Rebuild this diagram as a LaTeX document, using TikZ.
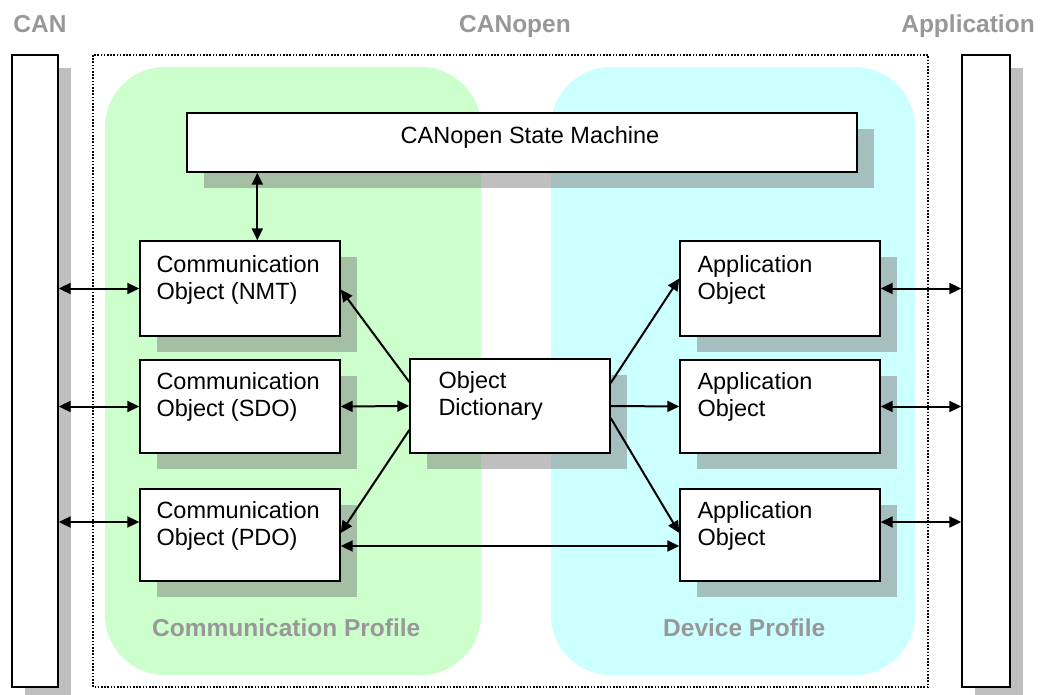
\documentclass[tikz,border=0pt]{standalone}
\usepackage{fontspec}
\setmainfont{Liberation Sans}
\usetikzlibrary{arrows.meta,shadows}

\definecolor{commgreen}{HTML}{CCFFCC}
\definecolor{devcyan}{HTML}{CCFFFF}
\definecolor{headgray}{HTML}{989898}

\newcommand\twolines[2]{\begin{tabular}[t]{@{}l@{}}#1\\#2\end{tabular}}

\tikzset{
  heading/.style={font=\fontsize{24.5}{29}\selectfont\bfseries, text=headgray, inner sep=0pt},
  body/.style={font=\fontsize{23.5}{27}\selectfont, inner sep=0pt, anchor=base west},
  objbox/.style={draw=black, line width=1.4pt, fill=white, inner sep=0pt,
    minimum width=200pt, minimum height=#1,
    drop shadow={shadow xshift=17pt, shadow yshift=-16pt, fill=black!50, opacity=0.5}},
  objbox/.default=94pt,
  busbar/.style={draw=black, line width=1.4pt, fill=white, inner sep=0pt,
    minimum width=#1, minimum height=632pt,
    drop shadow={shadow xshift=12.5pt, shadow yshift=-13pt, fill=black!50, opacity=0.5}},
  link/.style={line width=2pt, {Triangle[length=12pt,width=11pt]}-{Triangle[length=12pt,width=11pt]}},
  oneway/.style={line width=2pt, -{Triangle[length=12pt,width=11pt]}},
}

\begin{document}
\begin{tikzpicture}[x=1pt, y=-1pt]
\useasboundingbox (0,0) rectangle (1044,695);

% layer headings
\node[heading, anchor=base] (hcan) at (40,33) {CAN};
\node[heading, anchor=base] (hcanopen) at (515,33) {CANopen};
\node[heading, anchor=base] (happ) at (968,33) {Application};

% bus and application bars
\node[busbar=46pt] (canbar) at (35,371) {};
\node[busbar=48pt] (appbar) at (986,371) {};

% profile areas
\fill[commgreen, rounded corners=60pt] (105,67) rectangle (481,675);
\fill[devcyan, rounded corners=60pt] (551,67) rectangle (915,675);

% CANopen boundary
\draw[line width=2pt, dash pattern=on 1.6pt off 1.6pt] (93,55) rectangle (928,687);

\node[heading, anchor=base west] (hcomm) at (152,636) {Communication Profile};
\node[heading, anchor=base west] (hdev) at (663,636) {Device Profile};

% state machine
\node[objbox=59pt, minimum width=670pt] (sm) at (522,142.5) {};
\node[body, anchor=base] (smt) at (530,144) {CANopen State Machine};

% communication objects
\node[objbox=95pt] (nmt) at (240,288.5) {};
\node[objbox=93pt] (sdo) at (240,406.5) {};
\node[objbox=92pt] (pdo) at (240,535) {};
\node[body] (nmtt) at ([xshift=17pt, yshift=-32pt]nmt.north west) {\twolines{Communication}{Object (NMT)}};
\node[body] (sdot) at ([xshift=17pt, yshift=-30pt]sdo.north west) {\twolines{Communication}{Object (SDO)}};
\node[body] (pdot) at ([xshift=17pt, yshift=-30pt]pdo.north west) {\twolines{Communication}{Object (PDO)}};

% object dictionary
\node[objbox=94pt] (od) at (510,406) {};
\node[body] (odt) at ([xshift=29pt, yshift=-30pt]od.north west) {\twolines{Object}{Dictionary}};

% application objects
\node[objbox=95pt] (app1) at (780,288.5) {};
\node[objbox=93pt] (app2) at (780,406.5) {};
\node[objbox=92pt] (app3) at (780,535) {};
\node[body] (app1t) at ([xshift=18pt, yshift=-32pt]app1.north west) {\twolines{Application}{Object}};
\node[body] (app2t) at ([xshift=18pt, yshift=-30pt]app2.north west) {\twolines{Application}{Object}};
\node[body] (app3t) at ([xshift=18pt, yshift=-30pt]app3.north west) {\twolines{Application}{Object}};

% connections
\draw[link] ([xshift=71pt]sm.south west) -- ([xshift=118pt]nmt.north west);

\draw[link] (canbar.east |- nmt.west) -- (nmt.west);
\draw[link] (canbar.east |- sdo.west) -- (sdo.west);
\draw[link] ([yshift=13pt]canbar.east |- pdo.west) -- ([yshift=13pt]pdo.west);

\draw[link] (app1.east) -- (appbar.west |- app1.east);
\draw[link] (app2.east) -- (appbar.west |- app2.east);
\draw[link] ([yshift=13pt]app3.east) -- ([yshift=13pt]appbar.west |- app3.east);

\draw[link] (sdo.east) -- (od.west);
\draw[link] ([yshift=-11pt]pdo.east) -- ([yshift=-11pt]app3.west);

\draw[oneway] ([yshift=24pt]od.west) -- ([yshift=-1pt]nmt.east);
\draw[oneway] ([yshift=-24pt]od.west) -- ([yshift=2pt]pdo.east);
\draw[oneway] ([yshift=23pt]od.east) -- ([yshift=10pt]app1.west);
\draw[oneway] (od.east) -- (app2.west);
\draw[oneway] ([yshift=-12pt]od.east) -- ([yshift=2pt]app3.west);
\end{tikzpicture}
\end{document}
